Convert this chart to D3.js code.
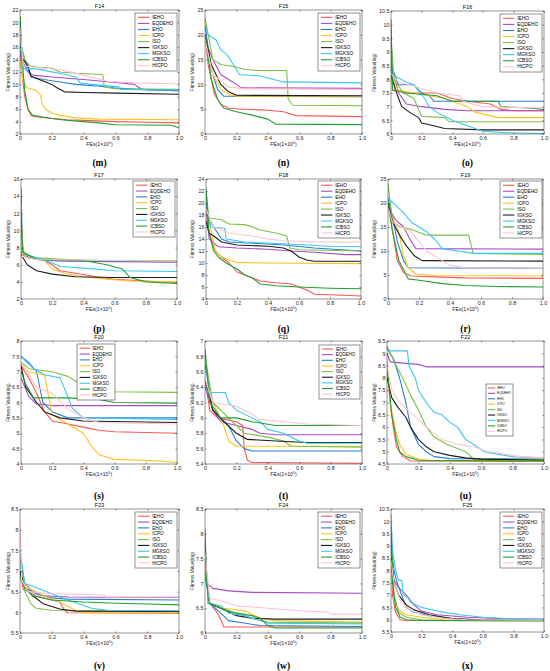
<!DOCTYPE html>
<html>
<head>
<meta charset="utf-8">
<script src="https://cdn.jsdelivr.net/npm/d3@7"></script>
<style>
body { margin: 0; background: #fff; }
</style>
</head>
<body>
<div id="container"></div>
<script>
// ---- data ----
const names = ["IEHO", "EQDEHO", "EHO", "ICPO", "ISO", "IGKSO", "MGKSO", "ICBSO", "HICPO"];
const colors = ["#ff5656", "#a94bc4", "#2a7ed3", "#ffc21f", "#7bc146", "#1c1c1c", "#3ac7f0", "#22a030", "#ffc4cd"];

const titles = ["F14", "F15", "F16", "F17", "F18", "F19", "F20", "F21", "F22", "F23", "F24", "F25"];
const subLabels = ["(m)", "(n)", "(o)", "(p)", "(q)", "(r)", "(s)", "(t)", "(u)", "(v)", "(w)", "(x)"];
const yDomains = [[2, 22], [0, 25], [6, 10.5], [2, 16], [4, 24], [0, 25], [4, 8], [5.4, 7], [4.5, 9.5], [5.5, 8.5], [6, 8.5], [5.5, 10.5]];
const yTicks = [
  [2, 4, 6, 8, 10, 12, 14, 16, 18, 20, 22],
  [0, 5, 10, 15, 20, 25],
  [6, 6.5, 7, 7.5, 8, 8.5, 9, 9.5, 10, 10.5],
  [2, 4, 6, 8, 10, 12, 14, 16],
  [4, 6, 8, 10, 12, 14, 16, 18, 20, 22, 24],
  [0, 5, 10, 15, 20, 25],
  [4, 4.5, 5, 5.5, 6, 6.5, 7, 7.5, 8],
  [5.4, 5.6, 5.8, 6, 6.2, 6.4, 6.6, 6.8, 7],
  [4.5, 5, 5.5, 6, 6.5, 7, 7.5, 8, 8.5, 9, 9.5],
  [5.5, 6, 6.5, 7, 7.5, 8, 8.5],
  [6, 6.5, 7, 7.5, 8, 8.5],
  [5.5, 6, 6.5, 7, 7.5, 8, 8.5, 9, 9.5, 10, 10.5]
];
const xTicks = [0, 0.2, 0.4, 0.6, 0.8, 1];
const xTickLabels = ["0", "0.2", "0.4", "0.6", "0.8", "1.0"];

// convergence curves, [FEs (x1e5), fitness (log)] per algorithm, order as names
const F14 = [
  [[0,17],[0.01,12],[0.03,8],[0.05,6],[0.07,5],[0.1,4.8],[0.2,4.5],[0.3,4.3],[0.4,4.2],[0.6,4.0],[0.8,3.9],[1,3.8]],
  [[0,15],[0.02,13.5],[0.05,12],[0.08,11.5],[0.2,11.2],[0.4,10.8],[0.6,10.3],[0.72,10],[0.76,9.3],[0.8,9.1],[1,9.0]],
  [[0,16.5],[0.02,15],[0.04,13],[0.07,11.2],[0.15,10.8],[0.25,10.4],[0.35,10],[0.5,9.7],[0.6,9.4],[0.75,9.2],[1,9.0]],
  [[0,14],[0.02,10.5],[0.04,9.5],[0.1,9.0],[0.12,8.6],[0.13,8.2],[0.14,6.8],[0.16,6],[0.2,5.4],[0.25,5],[0.35,4.6],[0.5,4.4],[1,4.3]],
  [[0,21],[0.01,16],[0.03,14],[0.06,13],[0.1,12.8],[0.2,12.6],[0.25,12],[0.35,11.8],[0.52,11.6],[0.53,9.6],[0.6,9.3],[1,9.2]],
  [[0,15.5],[0.02,14],[0.05,13],[0.07,11.3],[0.1,11],[0.15,10.5],[0.2,10],[0.23,9.5],[0.28,8.8],[0.4,8.7],[0.6,8.6],[1,8.4]],
  [[0,16],[0.02,12.5],[0.1,12.5],[0.15,12.3],[0.18,12.1],[0.25,11.8],[0.35,11.2],[0.38,10.2],[0.45,10],[0.62,9.6],[0.63,9.2],[1,9.1]],
  [[0,21],[0.01,15],[0.03,9],[0.05,6],[0.08,5],[0.2,4.5],[0.3,4.2],[0.5,3.8],[0.6,3.5],[0.95,3.4],[1,3.0]],
  [[0,19],[0.02,13],[0.1,12.7],[0.25,12.4],[0.4,11.5],[0.55,10.5],[0.75,10.2],[1,10.1]]
];
const F15 = [
  [[0,20],[0.02,14],[0.06,8],[0.1,6],[0.15,5.2],[0.25,5],[0.4,4.8],[0.5,4.5],[0.58,3.7],[1,3.5]],
  [[0,19],[0.05,15],[0.1,12],[0.15,11],[0.2,10],[0.23,9.3],[1,9.2]],
  [[0,22],[0.04,13],[0.08,9],[0.12,7.6],[1,7.5]],
  [[0,20],[0.05,12],[0.1,9],[0.15,8],[0.2,7.6],[1,7.6]],
  [[0,23.5],[0.05,15],[0.1,14],[0.2,13.5],[0.25,13],[0.35,12.8],[0.52,12.8],[0.53,7],[0.56,5.8],[1,5.7]],
  [[0,20],[0.04,14],[0.1,10],[0.15,8.5],[0.2,7.8],[1,7.7]],
  [[0,22],[0.02,20],[0.07,19],[0.1,17],[0.14,16],[0.17,14.5],[0.22,12],[0.35,11.7],[0.4,11.3],[0.5,10.5],[1,10.3]],
  [[0,20],[0.04,11],[0.08,7],[0.12,5.2],[0.2,4.5],[0.3,3.8],[0.4,3],[0.45,2],[1,1.9]],
  [[0,19],[0.05,12],[0.15,9.5],[0.25,9.1],[1,9.0]]
];
const F16 = [
  [[0,9],[0.01,7.6],[0.05,7.6],[0.1,7.5],[0.3,7.5],[0.4,7.3],[0.5,7.2],[0.65,7.1],[0.72,6.9],[0.8,6.85],[1,6.85]],
  [[0,8.5],[0.05,7.5],[0.1,7.1],[0.2,7.0],[0.35,6.9],[0.5,6.85],[1,6.85]],
  [[0,8.5],[0.05,7.8],[0.15,7.8],[0.2,7.5],[0.25,7.4],[0.28,7.2],[1,7.2]],
  [[0,8],[0.05,7.6],[0.15,7.5],[0.35,7.3],[0.5,7.0],[0.55,6.8],[0.7,6.6],[1,6.6]],
  [[0,9.5],[0.02,8],[0.08,7.5],[0.15,7.3],[0.18,6.9],[0.2,6.65],[0.35,6.6],[0.38,6.45],[1,6.45]],
  [[0,8.2],[0.03,7.6],[0.07,7.0],[0.12,6.8],[0.18,6.6],[0.2,6.4],[0.28,6.3],[0.35,6.2],[0.6,6.15],[1,6.15]],
  [[0,8.5],[0.03,8.1],[0.1,7.9],[0.15,7.8],[0.22,7.3],[0.25,7.0],[0.3,6.8],[0.4,6.5],[0.5,6.3],[0.6,6.1],[0.75,6.05],[1,6.02]],
  [[0,10.2],[0.01,7.6],[0.1,7.5],[0.3,7.4],[0.4,7.2],[0.7,7.2],[0.72,7.0],[0.9,6.95],[1,6.9]],
  [[0,8.2],[0.05,7.9],[0.12,7.8],[0.3,7.5],[0.45,7.4],[0.47,7.2],[0.6,7.0],[1,6.95]]
];
const F17 = [
  [[0,7.5],[0.02,7.0],[0.1,6.8],[0.15,6.5],[0.2,6],[0.25,5.3],[0.35,5.0],[0.42,4.8],[0.48,4.6],[0.6,4.3],[0.8,4.1],[1,3.9]],
  [[0,7.5],[0.05,6.8],[0.15,6.5],[0.3,6.4],[1,6.3]],
  [[0,15],[0.01,7.5],[0.05,6.8],[0.2,6.5],[0.5,6.4],[1,6.35]],
  [[0,13],[0.01,7.3],[0.05,7],[0.15,6.5],[0.2,5.5],[0.28,5],[0.4,4.6],[0.55,4.3],[0.7,4.1],[1,4.0]],
  [[0,10],[0.02,7.2],[0.1,6.8],[0.3,6.6],[0.5,6.5],[1,6.45]],
  [[0,7.2],[0.04,6],[0.1,5.3],[0.2,4.9],[0.35,4.6],[0.6,4.5],[1,4.5]],
  [[0,8],[0.02,7.3],[0.1,6.8],[0.2,6.2],[0.25,5.8],[0.4,5.6],[0.6,5.3],[1,5.2]],
  [[0,12.5],[0.01,7.5],[0.1,6.6],[0.4,6.5],[0.55,6.0],[0.65,5.5],[0.7,4.5],[0.8,4.0],[1,3.8]],
  [[0,7],[0.1,6.6],[1,6.4]]
];
const F18 = [
  [[0,19],[0.02,15],[0.06,12],[0.1,11],[0.15,10],[0.2,8.5],[0.25,8],[0.3,7.5],[0.35,7],[0.45,6.7],[0.55,6.5],[0.6,6],[0.65,5.5],[0.7,4.8],[0.8,4.7],[1,4.5]],
  [[0,20],[0.02,14],[0.08,12.7],[0.2,12.5],[0.4,12.3],[0.55,12],[0.7,11.8],[0.9,11.4],[1,11.4]],
  [[0,20],[0.02,17],[0.05,16],[0.1,14],[0.15,13.5],[0.3,13.3],[0.5,13],[0.7,12.5],[1,12]],
  [[0,19],[0.02,17],[0.06,12],[0.1,11],[0.15,10.5],[0.2,10.1],[0.4,10],[1,9.9]],
  [[0,22],[0.02,17.5],[0.1,17.2],[0.15,16.5],[0.25,16.4],[0.3,16],[0.35,15.5],[0.45,15],[0.52,14.5],[0.54,12.5],[0.6,12.2],[1,12]],
  [[0,17],[0.02,15],[0.05,14.5],[0.1,13.5],[0.2,13],[0.4,12.8],[0.5,12.5],[0.55,12],[0.6,11],[0.65,10.5],[0.7,10.3],[1,10.3]],
  [[0,20],[0.03,16],[0.12,15.8],[0.13,14],[0.25,13.5],[0.5,13.2],[0.65,13],[0.8,12.8],[1,12.7]],
  [[0,22.5],[0.02,15],[0.05,12],[0.08,11],[0.13,10],[0.2,9],[0.25,8],[0.3,7.5],[0.35,6.5],[0.45,6.2],[0.6,6],[0.8,5.8],[1,5.7]],
  [[0,19],[0.05,16],[0.15,15],[0.3,14.5],[0.4,14],[0.5,13.7],[0.7,13.5],[1,13.5]]
];
const F19 = [
  [[0,20],[0.03,14],[0.06,8],[0.1,5.5],[0.15,4.8],[0.3,4.6],[0.5,4.4],[1,4.3]],
  [[0,19],[0.05,16.5],[0.1,15],[0.15,12],[0.18,10.5],[1,10.4]],
  [[0,21],[0.03,17],[0.06,12],[0.1,8],[0.13,6.5],[1,6.4]],
  [[0,19],[0.03,17],[0.07,14],[0.1,9],[0.13,6.5],[0.18,5.2],[0.3,4.9],[1,4.8]],
  [[0,24],[0.03,16],[0.08,15],[0.15,14.5],[0.25,13.3],[0.52,13.3],[0.55,9.5],[1,9.3]],
  [[0,20],[0.03,16],[0.08,13],[0.12,11],[0.17,9],[0.22,8],[1,7.9]],
  [[0,21],[0.05,19.5],[0.1,18],[0.15,16],[0.25,14],[0.3,12.5],[0.35,10.5],[0.45,10],[0.55,9.5],[1,9.5]],
  [[0,20],[0.03,14],[0.07,8],[0.13,4.2],[0.2,3.9],[0.35,3.2],[0.5,2.8],[0.7,2.6],[1,2.5]],
  [[0,19],[0.03,16],[0.15,14],[0.2,12],[0.25,10],[0.35,8],[0.4,7],[0.5,6.5],[1,6.4]]
];
const F20 = [
  [[0,7.2],[0.05,6.8],[0.1,6.3],[0.15,5.7],[0.2,5.4],[0.3,5.3],[0.4,5.2],[0.5,5.1],[0.6,5.05],[1,5.0]],
  [[0,6.8],[0.05,6.2],[0.1,5.95],[0.2,5.9],[1,5.9]],
  [[0,7.5],[0.05,7.3],[0.1,7.0],[0.14,6.0],[0.2,5.7],[0.3,5.5],[1,5.5]],
  [[0,7.2],[0.05,7.0],[0.15,6.9],[0.2,5.6],[0.3,5.3],[0.4,5.0],[0.45,4.6],[0.5,4.3],[0.6,4.15],[0.9,4.1],[1,4.05]],
  [[0,7.3],[0.05,7.1],[0.2,7.0],[0.3,6.85],[0.38,6.6],[0.6,6.35],[1,6.33]],
  [[0,7.2],[0.03,6.5],[0.1,6.0],[0.15,5.7],[0.25,5.5],[0.4,5.4],[1,5.35]],
  [[0,7.5],[0.08,7.1],[0.15,6.9],[0.25,6.8],[0.3,6.2],[0.33,5.8],[0.4,5.5],[1,5.45]],
  [[0,7.0],[0.03,6.6],[0.08,6.15],[0.3,6.15],[0.5,6.1],[0.6,6.0],[1,5.98]],
  [[0,7.3],[0.1,6.5],[0.2,6.3],[0.3,5.8],[0.4,5.5],[0.5,5.35],[1,5.3]]
];
const F21 = [
  [[0,6.5],[0.03,6.1],[0.08,6.0],[0.2,5.95],[0.24,5.9],[0.25,5.6],[0.27,5.45],[0.3,5.42],[1,5.41]],
  [[0,6.4],[0.05,6.1],[0.1,5.95],[0.2,5.9],[0.3,5.85],[0.35,5.8],[0.45,5.78],[1,5.78]],
  [[0,6.7],[0.05,6.1],[0.15,5.9],[0.2,5.7],[0.25,5.6],[0.3,5.57],[1,5.57]],
  [[0,6.5],[0.05,6.2],[0.12,5.9],[0.15,5.7],[0.2,5.63],[1,5.63]],
  [[0,6.8],[0.05,6.2],[0.15,6.0],[0.25,5.8],[0.4,5.75],[0.5,5.7],[0.55,5.63],[1,5.62]],
  [[0,6.5],[0.05,6.1],[0.12,5.95],[0.2,5.8],[0.27,5.72],[0.45,5.7],[0.65,5.68],[1,5.68]],
  [[0,6.4],[0.02,6.33],[0.13,6.33],[0.15,6.2],[0.2,6.1],[0.3,6.0],[0.35,5.95],[0.4,5.85],[0.5,5.8],[0.6,5.7],[0.65,5.67],[1,5.67]],
  [[0,6.9],[0.03,6.2],[0.1,6.0],[0.2,6.0],[0.3,5.95],[0.45,5.9],[1,5.9]],
  [[0,6.5],[0.05,6.2],[0.2,6.15],[0.3,6.05],[0.35,5.98],[0.5,5.95],[0.65,5.92],[1,5.9]]
];
const F22 = [
  [[0,8.5],[0.02,7],[0.04,6],[0.06,5.2],[0.1,4.8],[0.15,4.62],[1,4.6]],
  [[0,9.0],[0.02,8.65],[0.1,8.6],[0.2,8.55],[0.25,8.45],[1,8.45]],
  [[0,9.2],[0.04,8.8],[0.08,8],[0.12,7],[0.15,6],[0.2,5.3],[0.25,5.0],[0.3,4.8],[0.4,4.72],[1,4.7]],
  [[0,8.8],[0.02,7],[0.05,6],[0.08,5.3],[0.12,4.9],[0.2,4.7],[0.3,4.63],[1,4.62]],
  [[0,9.3],[0.05,8.6],[0.1,8],[0.15,7.3],[0.2,6.7],[0.25,6],[0.3,5.6],[0.38,5.3],[0.5,5.0],[0.52,4.9],[0.55,4.7],[1,4.68]],
  [[0,8.0],[0.03,7.2],[0.07,6.8],[0.12,6.4],[0.15,6.0],[0.2,5.5],[0.25,5.2],[0.3,5.0],[0.4,4.85],[0.5,4.75],[0.6,4.7],[1,4.65]],
  [[0,9.2],[0.02,9.1],[0.13,9.1],[0.14,8.5],[0.18,8],[0.2,7.5],[0.25,7],[0.3,6.6],[0.35,6.5],[0.4,6.2],[0.45,6],[0.5,5.5],[0.55,5.3],[0.62,5],[0.7,4.9],[0.8,4.8],[1,4.75]],
  [[0,8.5],[0.03,6.5],[0.06,5.5],[0.08,5.0],[0.12,4.8],[0.2,4.65],[1,4.62]],
  [[0,8.5],[0.03,7.5],[0.08,7],[0.15,6.6],[0.2,6.3],[0.25,6],[0.35,5.5],[0.45,5.3],[0.55,5.2],[0.65,5.0],[0.75,4.9],[0.85,4.8],[1,4.75]]
];
const F23 = [
  [[0,7.0],[0.02,6.55],[0.05,6.5],[0.1,6.4],[0.2,6.3],[0.25,6.25],[0.28,6.05],[0.3,5.99],[1,5.98]],
  [[0,7.3],[0.03,6.7],[0.08,6.5],[0.15,6.4],[0.3,6.37],[1,6.36]],
  [[0,7.0],[0.03,6.6],[0.1,6.45],[0.2,6.35],[0.3,6.32],[1,6.3]],
  [[0,6.8],[0.05,6.6],[0.15,6.4],[0.25,6.25],[0.35,6.05],[0.4,6.0],[1,6.0]],
  [[0,7.2],[0.03,6.5],[0.07,6.2],[0.1,6.1],[0.2,6.05],[1,6.03]],
  [[0,7.0],[0.03,6.6],[0.08,6.4],[0.15,6.2],[0.25,6.08],[0.35,6.03],[1,6.02]],
  [[0,7.5],[0.03,6.7],[0.1,6.6],[0.2,6.45],[0.3,6.3],[0.45,6.1],[0.55,6.05],[1,6.04]],
  [[0,6.9],[0.03,6.6],[0.08,6.4],[0.2,6.3],[0.4,6.25],[0.6,6.22],[0.8,6.2],[1,6.18]],
  [[0,8.2],[0.01,6.8],[0.05,6.5],[0.2,6.45],[0.53,6.42],[0.54,6.37],[1,6.37]]
];
const F24 = [
  [[0,7.5],[0.03,6.6],[0.08,6.4],[0.11,6.2],[0.12,6.12],[1,6.12]],
  [[0,8.1],[0.01,7.0],[0.05,6.9],[0.15,6.85],[0.3,6.82],[1,6.8]],
  [[0,7.5],[0.03,6.6],[0.1,6.4],[0.15,6.25],[0.25,6.2],[0.35,6.15],[1,6.13]],
  [[0,7.3],[0.03,6.6],[0.12,6.5],[0.25,6.45],[0.35,6.3],[0.45,6.25],[1,6.22]],
  [[0,7.4],[0.03,6.6],[0.1,6.5],[0.2,6.4],[0.3,6.3],[0.4,6.22],[1,6.2]],
  [[0,7.2],[0.03,6.6],[0.1,6.5],[0.2,6.35],[0.3,6.3],[0.45,6.28],[1,6.28]],
  [[0,7.2],[0.03,6.6],[0.1,6.55],[0.15,6.4],[0.25,6.35],[0.3,6.3],[0.4,6.2],[1,6.18]],
  [[0,7.9],[0.02,6.6],[0.1,6.5],[0.2,6.4],[0.3,6.35],[0.35,6.3],[0.4,6.15],[0.45,6.1],[1,6.1]],
  [[0,7.6],[0.03,6.7],[0.1,6.65],[0.2,6.55],[0.4,6.5],[0.6,6.45],[0.78,6.42],[0.8,6.38],[1,6.38]]
];
const F25 = [
  [[0,9.5],[0.01,7],[0.03,6.3],[0.06,6.0],[0.1,5.97],[1,5.96]],
  [[0,8.5],[0.02,7.6],[0.05,7.3],[0.1,7],[0.15,6.6],[0.2,6.35],[0.3,6.2],[0.5,6.1],[0.7,6.05],[1,6.02]],
  [[0,9.0],[0.02,8],[0.04,7.5],[0.07,7],[0.1,6.5],[0.15,6.3],[0.25,6.15],[0.4,6.05],[0.6,6.0],[1,5.98]],
  [[0,8.5],[0.02,6.8],[0.05,6.4],[0.1,6.2],[0.2,6.1],[0.35,6.0],[1,5.98]],
  [[0,9.5],[0.02,7.0],[0.05,6.3],[0.1,6.1],[0.2,6.0],[0.4,5.97],[1,5.96]],
  [[0,8.5],[0.02,7.5],[0.05,7],[0.1,6.6],[0.15,6.4],[0.25,6.2],[0.4,6.05],[0.6,5.98],[1,5.97]],
  [[0,10.3],[0.01,8.8],[0.03,8],[0.05,7.6],[0.07,7.6],[0.08,7],[0.11,6.9],[0.13,6.7],[0.2,6.5],[0.3,6.35],[0.45,6.2],[0.6,6.1],[0.75,6.05],[1,6.03]],
  [[0,9.8],[0.01,7.5],[0.03,6.5],[0.06,6.1],[0.1,6.0],[0.2,5.97],[1,5.96]],
  [[0,8.4],[0.02,7.5],[0.06,6.8],[0.12,6.4],[0.2,6.2],[0.35,6.05],[0.5,6.0],[1,5.98]]
];
const panelSeries = [F14, F15, F16, F17, F18, F19, F20, F21, F22, F23, F24, F25];

// ---- layout ----
const W = 550, H = 671;
// plot area [left, top, right, bottom]
const plotBoxes = [
  [20, 10, 179, 134], [205, 10, 362, 134], [391, 11, 544, 134],
  [21, 179, 177, 299], [206, 179, 361, 299], [388, 179, 543, 299],
  [21, 341, 177, 464], [205, 341, 362, 464], [387, 341, 544, 464],
  [20, 509, 179, 633], [205, 509, 362, 633], [391, 509, 544, 632]
];
// legend [x, y, w, h]
const legendBoxes = [
  [135, 13, 42, 58], [318, 13, 42, 58], [500, 14, 42, 58],
  [133, 181, 42, 56], [318, 181, 42, 57], [500, 181, 42, 57],
  [77, 344, 38, 56], [319, 345, 41, 54], [486, 384, 27, 52],
  [135, 512, 42, 56], [318, 512, 42, 56], [500, 512, 42, 56]
];
const yLabelX = [8, 192, 374];
const subLabelY = [166, 332, 499, 669];
const axisColor = "#262626";
const fontSans = "'Liberation Sans', Arial, Helvetica, sans-serif";

const svg = d3.select("#container")
  .append("svg")
  .attr("width", W)
  .attr("height", H)
  .attr("viewBox", `0 0 ${W} ${H}`)
  .style("display", "block")
  .style("background", "#fff");

panelSeries.forEach((series, i) => {
  const [l, t, r, b] = plotBoxes[i];
  const x = d3.scaleLinear().domain([0, 1]).range([l, r]);
  const y = d3.scaleLinear().domain(yDomains[i]).range([b, t]);
  const g = svg.append("g");

  g.append("clipPath").attr("id", "clip" + i)
    .append("rect").attr("x", l).attr("y", t).attr("width", r - l).attr("height", b - t);

  const line = d3.line().x(d => x(d[0])).y(d => y(d[1]));
  const lines = g.append("g").attr("clip-path", `url(#clip${i})`);
  series.forEach((s, k) => {
    lines.append("path")
      .attr("d", line(s))
      .attr("fill", "none")
      .attr("stroke", colors[k])
      .attr("stroke-width", 1.1)
      .attr("stroke-linejoin", "round");
  });

  // axes, ticks pointing inward like matlab
  const styleAxis = a => {
    a.attr("font-size", 5.4).attr("font-family", fontSans).attr("color", axisColor);
    a.select(".domain").remove();
    a.selectAll("line").attr("stroke-width", 0.5);
  };
  g.append("g").attr("transform", `translate(0,${b})`)
    .call(d3.axisBottom(x).tickValues(xTicks).tickFormat((d, j) => xTickLabels[j]).tickSize(-1.6).tickPadding(2))
    .call(styleAxis);
  g.append("g").attr("transform", `translate(0,${t})`)
    .call(d3.axisTop(x).tickValues(xTicks).tickFormat("").tickSize(-1.6))
    .call(styleAxis);
  g.append("g").attr("transform", `translate(${l},0)`)
    .call(d3.axisLeft(y).tickValues(yTicks[i]).tickFormat(d => String(d)).tickSize(-1.6).tickPadding(1.5))
    .call(styleAxis);
  g.append("g").attr("transform", `translate(${r},0)`)
    .call(d3.axisRight(y).tickValues(yTicks[i]).tickFormat("").tickSize(-1.6))
    .call(styleAxis);

  g.append("rect")
    .attr("x", l).attr("y", t).attr("width", r - l).attr("height", b - t)
    .attr("fill", "none").attr("stroke", axisColor).attr("stroke-width", 0.5);

  // title
  g.append("text")
    .attr("x", (l + r) / 2).attr("y", t - 2)
    .attr("text-anchor", "middle")
    .attr("font-family", fontSans).attr("font-size", 5.4)
    .attr("fill", "#000")
    .text(titles[i]);

  // y label
  const yl = yLabelX[i % 3];
  g.append("text")
    .attr("transform", `translate(${yl},${(t + b) / 2}) rotate(-90)`)
    .attr("text-anchor", "middle")
    .attr("dy", "0.35em")
    .attr("font-family", fontSans).attr("font-size", 4.8)
    .attr("fill", axisColor)
    .text("Fitness Value(log)");

  // x label
  const xl = g.append("text")
    .attr("x", (l + r) / 2).attr("y", b + 12)
    .attr("text-anchor", "middle")
    .attr("font-family", fontSans).attr("font-size", 5.2)
    .attr("fill", axisColor);
  xl.append("tspan").text("FEs(1\u00d710");
  xl.append("tspan").attr("font-size", 3.6).attr("dy", -2).text("5");
  xl.append("tspan").attr("dy", 2).text(")");

  // legend
  const [lx, ly, lw, lh] = legendBoxes[i];
  const lg = g.append("g");
  lg.append("rect")
    .attr("x", lx).attr("y", ly).attr("width", lw).attr("height", lh)
    .attr("fill", "#fff").attr("stroke", axisColor).attr("stroke-width", 0.5);
  const fs = Math.min(lh / 12, lw * 0.118);
  names.forEach((n, k) => {
    const cy = ly + lh * (0.075 + 0.835 * k / 8);
    lg.append("line")
      .attr("x1", lx + lw * 0.07).attr("x2", lx + lw * 0.34)
      .attr("y1", cy).attr("y2", cy)
      .attr("stroke", colors[k]).attr("stroke-width", 1.1);
    lg.append("text")
      .attr("x", lx + lw * 0.41).attr("y", cy)
      .attr("dy", "0.35em")
      .attr("font-family", fontSans).attr("font-size", fs)
      .attr("fill", "#000")
      .text(n);
  });

  // sub-figure label
  g.append("text")
    .attr("x", (l + r) / 2).attr("y", subLabelY[Math.floor(i / 3)])
    .attr("text-anchor", "middle")
    .attr("font-family", "'Liberation Serif', 'Times New Roman', serif")
    .attr("font-weight", "bold")
    .attr("font-size", 9.5)
    .attr("fill", "#000")
    .text(subLabels[i]);
});
</script>
</body>
</html>
